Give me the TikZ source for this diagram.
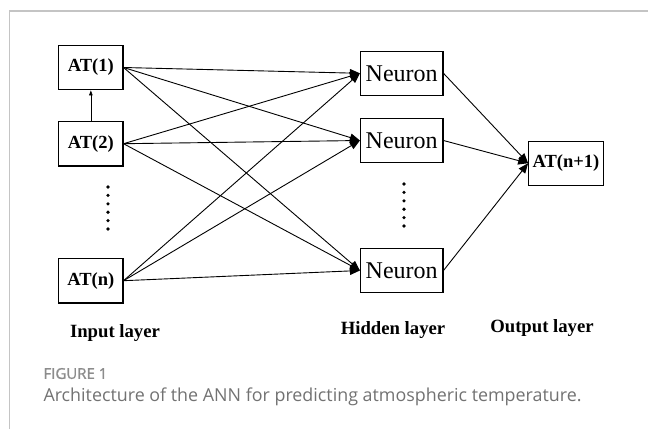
\documentclass[tikz,border=0pt]{standalone}
\usepackage{fontspec}
\setmainfont{Liberation Serif}
\newfontfamily\capfont{Open Sans}
\newfontfamily\figfont[FakeBold=1.2]{Open Sans}
\usetikzlibrary{arrows.meta}
\definecolor{framegray}{HTML}{C4C4C4}
\definecolor{capgray}{HTML}{727272}
\definecolor{figgray}{HTML}{8C8C8C}
\tikzset{
  inbox/.style={draw, line width=1.1pt, minimum width=64.3pt, minimum height=44.6pt, inner sep=0pt, font=\fontsize{18.5}{20}\selectfont\bfseries},
  neubox/.style={draw, line width=1.1pt, minimum width=82.5pt, minimum height=44.5pt, inner sep=0pt, font=\fontsize{24}{26}\selectfont},
  outbox/.style={draw, line width=1.1pt, minimum width=74.6pt, minimum height=44.3pt, inner sep=0pt, font=\fontsize{18.5}{20}\selectfont\bfseries},
  layerlab/.style={font=\fontsize{18.7}{20}\selectfont\bfseries, inner sep=0pt},
  conn/.style={line width=0.9pt, -{Triangle[length=10pt,width=8pt]}},
  smallconn/.style={line width=0.7pt, -{Triangle[length=5pt,width=3.5pt]}},
  dotmark/.style={fill=black, circle, inner sep=0pt, minimum size=3.6pt}
}
\begin{document}
\begin{tikzpicture}[x=1pt,y=-1pt]
\useasboundingbox (0,0) rectangle (648,429);
% frame
\draw[framegray, line width=1.4pt] (9.3,429) -- (9.3,11) -- (648,11);
% input nodes
\node[inbox] (a1) at (90.85,67.5) {AT(1)};
\node[inbox] (a2) at (90.85,143.7) {AT(2)};
\node[inbox] (an) at (90.85,280.7) {AT(n)};
% hidden nodes
\node[neubox] (n1) at (401.7,73.3) {Neuron};
\node[neubox] (n2) at (401.7,140.5) {Neuron};
\node[neubox] (n3) at (401.7,270.5) {Neuron};
% output
\node[outbox] (o) at (566,163.2) {AT(n+1)};
% dots
\foreach \i in {0,...,5} {
  \node[dotmark] (di\i) at (108,187+8.4*\i) {};
  \node[dotmark] (dh\i) at (404,184+8.4*\i) {};
}
% connections
\draw[smallconn] (a2.north) -- (a1.south);
\foreach \s in {a1,a2,an} {
  \foreach \t in {n1,n2,n3} {
    \draw[conn] (\s.east) -- (\t.west);
  }
}
\foreach \t in {n1,n2,n3} {
  \draw[conn] (\t.east) -- (o.west);
}
% layer labels
\node[layerlab] (li) at (115,333) {Input layer};
\node[layerlab] (lh) at (393,330) {Hidden layer};
\node[layerlab] (lo) at (542,328.3) {Output layer};
% caption
\node[anchor=west, inner sep=0pt, text=figgray, font=\figfont\fontsize{15}{17}\selectfont] (fig) at (43.3,373.5) {FIGURE 1};
\node[anchor=west, inner sep=0pt, text=capgray] (cap) at (43.3,397) {\resizebox{538pt}{!}{\capfont\fontsize{16}{18}\selectfont Architecture of the ANN for predicting atmospheric temperature.}};
\end{tikzpicture}
\end{document}
